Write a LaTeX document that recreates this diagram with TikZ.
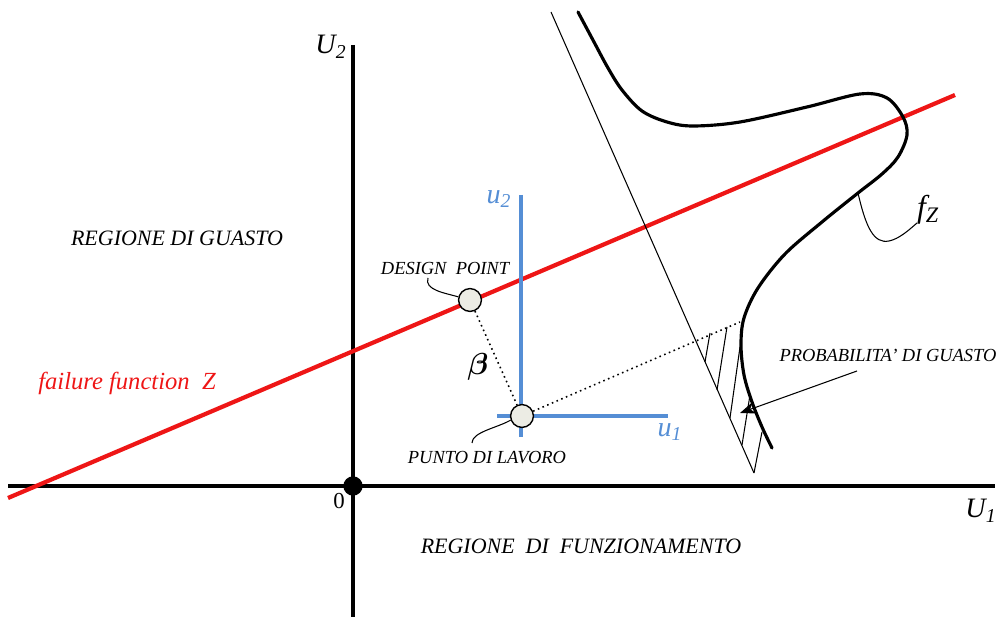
\documentclass[tikz,border=0pt]{standalone}
\usepackage{fontspec}
\setmainfont{Liberation Serif}
\usepackage{bm}
\usetikzlibrary{arrows.meta}
\definecolor{myblue}{RGB}{85,142,213}
\definecolor{myred}{RGB}{238,22,22}
\definecolor{ptfill}{RGB}{236,236,228}
\begin{document}
\begin{tikzpicture}[x=0.02cm,y=-0.02cm,
  lab/.style={font=\itshape\fontsize{12.5}{14}\selectfont, inner sep=0pt},
  smalllab/.style={font=\itshape\fontsize{10.5}{12}\selectfont, inner sep=0pt},
  mathlab/.style={font=\itshape\fontsize{16}{18}\selectfont, inner sep=0pt},
  axis/.style={line width=2pt},
  blueaxis/.style={myblue, line width=2.4pt},
  pt/.style={circle, draw=black, fill=ptfill, line width=0.8pt, minimum size=13pt, inner sep=0pt},
  leader/.style={line width=0.6pt},
  hatch/.style={line width=0.6pt}]
\useasboundingbox (0,0) rectangle (1002,617);
% axes
\draw[axis] (8,486) -- (995,486);
\draw[axis] (353,45) -- (353,617);
\node[circle, fill=black, minimum size=11pt, inner sep=0pt] (o) at (353,486) {};
\node[inner sep=0pt, font=\fontsize{13}{15}\selectfont] (zero) at (339,501) {0};
\node[mathlab] (U2) at (331,47) {U\textsubscript{2}};
\node[mathlab] (U1) at (981,511) {U\textsubscript{1}};
% red failure line
\draw[myred, line width=2.4pt] (8,498) -- (955,95);
\node[lab, text=myred, font=\itshape\fontsize{14}{16}\selectfont] (ff) at (127,383) {failure function\ \ Z};
% thin line and hatch
\draw[line width=0.6pt] (551,12) -- (754,473);
\draw[hatch] (705,362) -- (710,333);
\draw[hatch] (717,390) -- (727,327);
\draw[hatch] (730,418) -- (740,347);
\draw[hatch] (742,445) -- (750,395);
\draw[hatch] (754,473) -- (762,432);
% f_Z curve
\draw[line width=1.8pt, line cap=round] plot[smooth, tension=0.55] coordinates {
 (578,12) (594,42) (608,68) (622,90) (642,111) (667,122) (693,126) (740,122)
 (807,107) (860,94) (887,98) (903,117) (907,135) (898,157) (882,174) (858,193)
 (822,222) (785,254) (758,288) (744,318) (741,345) (744,375) (752,402) (762,427) (772,448)};
\coordinate (fzc) at (858,193);
\coordinate (fzend) at (917,223);
\draw[leader] (fzc) .. controls (866,228) and (874,244) .. (889,241) .. controls (899,239) and (909,230) .. (fzend);
\node[mathlab, font=\itshape\fontsize{18}{20}\selectfont] (fz) at (928,210) {f\textsubscript{Z}};
% blue local axes
\draw[blueaxis] (521,195) -- (521,437);
\draw[blueaxis] (497,416) -- (668,416);
\node[mathlab, text=myblue] (u2) at (499,199) {u\textsubscript{2}};
\node[mathlab, text=myblue] (u1) at (670,432) {u\textsubscript{1}};
% points
\node[pt] (dp) at (470,300) {};
\node[pt] (wp) at (522,416) {};
\coordinate (fzp) at (740,322);
\draw[dotted, line width=0.9pt] (dp) -- (wp);
\draw[dotted, line width=0.9pt] (wp) -- (fzp);
\node[font=\fontsize{18}{20}\selectfont, inner sep=0pt] (beta) at (478,367) {$\bm{\beta}$};
% labels
\node[lab] (rg) at (177,238) {REGIONE\ DI GUASTO};
\node[lab] (rf) at (581,546) {REGIONE\ \ DI\ \ FUNZIONAMENTO};
\node[smalllab] (dpl) at (445,268) {DESIGN\ \ POINT};
\node[smalllab] (wpl) at (487,458) {PUNTO DI LAVORO};
\node[smalllab] (pgl) at (888,355) {PROBABILITA’ DI GUASTO};
\coordinate (dplend) at (428,278);
\coordinate (wplend) at (472,443);
\draw[leader] (dp.165) .. controls (445,293) and (424,290) .. (dplend);
\draw[leader] (wp.200) .. controls (497,428) and (472,432) .. (wplend);
\coordinate (pgstart) at (857,371);
\coordinate (pgtip) at (740,413);
\draw[leader, -{Stealth[length=9pt, width=7pt]}] (pgstart) -- (pgtip);
\end{tikzpicture}
\end{document}
